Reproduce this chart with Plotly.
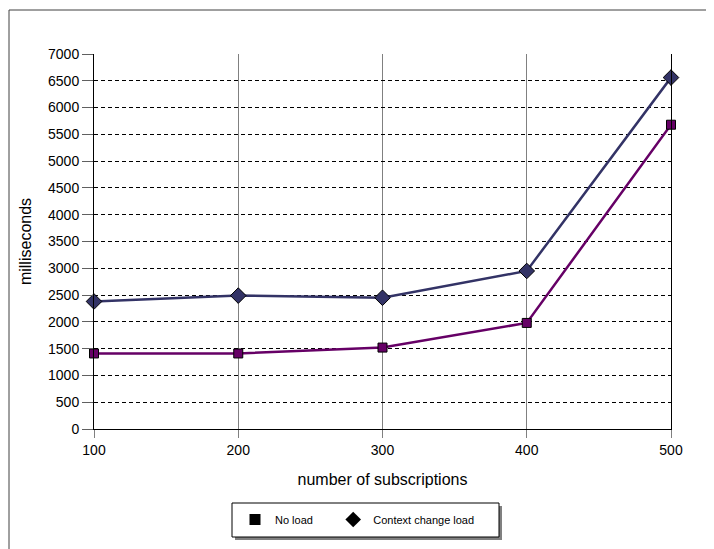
import plotly.graph_objects as go

subscriptions = [100, 200, 300, 400, 500]
no_load = [1410, 1410, 1520, 1980, 5680]
context_change_load = [2380, 2490, 2450, 2950, 6560]
y_ticks = list(range(0, 7001, 500))

# page body has an 8px margin; figure is sized to fit the window
OFF = 8
W, H = 714 - OFF, 549 - OFF
# plot area in screen pixels: x 94..671, y 54..429
SL, ST, SR, SB = 94, 54, 671, 429
pw, ph = SR - SL, SB - ST
L, T = SL - OFF, ST - OFF
R, B = W - L - pw, H - T - ph

def px(x):
    return (x - SL) / pw

def py(y):
    return (SB - y) / ph

NAVY = "#333366"
PURPLE = "#660066"
FONT = "Liberation Sans, Arial, sans-serif"

fig = go.Figure()
fig.add_trace(go.Scatter(
    x=subscriptions, y=no_load, mode="lines+markers", showlegend=False, cliponaxis=False,
    line=dict(color=PURPLE, width=2.5),
    marker=dict(symbol="square", size=9, color=PURPLE, line=dict(color="black", width=1)),
))
fig.add_trace(go.Scatter(
    x=subscriptions, y=context_change_load, mode="lines+markers", showlegend=False, cliponaxis=False,
    line=dict(color=NAVY, width=2.5),
    marker=dict(symbol="diamond", size=12, color=NAVY, line=dict(color="black", width=1)),
))
# legend entries (black markers only)
fig.add_trace(go.Scatter(x=[None], y=[None], mode="markers", name="No load" + "\u00a0" * 5,
                         marker=dict(symbol="square", size=11, color="black")))
fig.add_trace(go.Scatter(x=[None], y=[None], mode="markers", name="Context change load",
                         marker=dict(symbol="diamond", size=12, color="black")))

shapes = [
    # outer frame
    dict(type="rect", xref="paper", yref="paper", x0=px(9), x1=px(740), y0=py(580), y1=py(10),
         line=dict(color="#404040", width=1), layer="below"),
    # legend shadow
    dict(type="rect", xref="paper", yref="paper", x0=px(235), x1=px(502), y0=py(540), y1=py(506),
         line=dict(width=0), fillcolor="#808080", layer="below"),
    # legend box
    dict(type="rect", xref="paper", yref="paper", x0=px(232), x1=px(499), y0=py(537), y1=py(503),
         line=dict(color="black", width=1), fillcolor="white", layer="below"),
]

fig.update_layout(
    width=W, height=H,
    margin=dict(l=L, r=R, t=T, b=B),
    paper_bgcolor="white", plot_bgcolor="white",
    font=dict(family=FONT, color="black"),
    shapes=shapes,
    showlegend=True,
    legend=dict(orientation="h", x=px(235), y=py(505), xanchor="left", yanchor="top",
                bgcolor="rgba(0,0,0,0)", borderwidth=0, font=dict(size=11, family=FONT),
                itemclick=False),
    xaxis=dict(
        range=[100, 500], tickvals=subscriptions, ticktext=[str(v) for v in subscriptions],
        showgrid=True, gridcolor="#808080", gridwidth=1,
        showline=True, linecolor="black", linewidth=1, mirror=False,
        ticks="outside", ticklen=8, tickcolor="#808080",
        tickfont=dict(size=14), zeroline=False,
        title=dict(text="number of subscriptions", font=dict(size=16), standoff=17),
    ),
    yaxis=dict(
        range=[0, 7000], tickvals=y_ticks,
        showgrid=True, gridcolor="black", gridwidth=1, griddash="4px,3px",
        showline=True, linecolor="black", linewidth=1, mirror=True,
        ticks="outside", ticklen=11, tickcolor="#606060",
        tickfont=dict(size=14), zeroline=False,
        title=dict(text="milliseconds", font=dict(size=16), standoff=12),
    ),
)

fig.write_html("out.html")
